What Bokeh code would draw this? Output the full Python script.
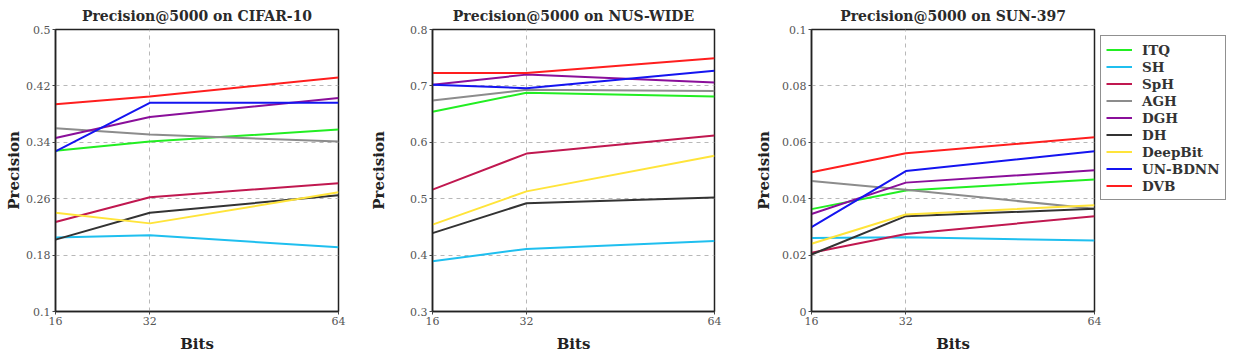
from bokeh.plotting import figure
from bokeh.layouts import row
from bokeh.models import FixedTicker, Legend, LegendItem
from bokeh.embed import file_html
from bokeh.resources import INLINE

bits = [16, 32, 64]
methods = ["ITQ", "SH", "SpH", "AGH", "DGH", "DH", "DeepBit", "UN-BDNN", "DVB"]
colors = ["#22ee22", "#1fbfef", "#c01850", "#8c8c8c", "#8a0f9a", "#333333", "#ffe43a", "#1414f0", "#ff1e1e"]

cifar10 = {
    "ITQ": [0.328, 0.341, 0.358],
    "SH": [0.205, 0.208, 0.191],
    "SpH": [0.227, 0.262, 0.282],
    "AGH": [0.360, 0.351, 0.341],
    "DGH": [0.346, 0.376, 0.403],
    "DH": [0.202, 0.240, 0.265],
    "DeepBit": [0.240, 0.225, 0.269],
    "UN-BDNN": [0.327, 0.396, 0.396],
    "DVB": [0.394, 0.405, 0.432],
}
nuswide = {
    "ITQ": [0.654, 0.688, 0.681],
    "SH": [0.389, 0.411, 0.425],
    "SpH": [0.516, 0.580, 0.612],
    "AGH": [0.674, 0.693, 0.691],
    "DGH": [0.702, 0.720, 0.706],
    "DH": [0.439, 0.492, 0.502],
    "DeepBit": [0.454, 0.513, 0.576],
    "UN-BDNN": [0.702, 0.696, 0.727],
    "DVB": [0.723, 0.723, 0.749],
}
sun397 = {
    "ITQ": [0.0363, 0.0429, 0.0468],
    "SH": [0.0261, 0.0263, 0.0252],
    "SpH": [0.0208, 0.0275, 0.0338],
    "AGH": [0.0463, 0.0432, 0.0364],
    "DGH": [0.0346, 0.0457, 0.0501],
    "DH": [0.0202, 0.0338, 0.0364],
    "DeepBit": [0.0240, 0.0344, 0.0377],
    "UN-BDNN": [0.0299, 0.0498, 0.0568],
    "DVB": [0.0494, 0.0561, 0.0618],
}

cifar_ticks = [0.1, 0.18, 0.26, 0.34, 0.42, 0.5]
cifar_labels = ["0.1", "0.18", "0.26", "0.34", "0.42", "0.5"]
nus_ticks = [0.3, 0.4, 0.5, 0.6, 0.7, 0.8]
nus_labels = ["0.3", "0.4", "0.5", "0.6", "0.7", "0.8"]
sun_ticks = [0.0, 0.02, 0.04, 0.06, 0.08, 0.1]
sun_labels = ["0", "0.02", "0.04", "0.06", "0.08", "0.1"]

titles = ["Precision@5000 on CIFAR-10", "Precision@5000 on NUS-WIDE", "Precision@5000 on SUN-397"]

SERIF = "DejaVu Serif"
FW, FH = 283, 282


def make_panel(title, data, yticks, ylabels, left, right, fw, ylab_standoff, legend=False):
    p = figure(frame_width=fw, frame_height=FH, output_backend="svg", toolbar_location=None,
               x_range=(16, 64), y_range=(yticks[0], yticks[-1]),
               min_border_left=left, min_border_right=right, min_border_top=0, min_border_bottom=41)
    p.title.text = title
    p.title.align = "center"
    p.title.text_font = SERIF
    p.title.text_font_size = "14px"
    p.title.text_font_style = "bold"
    p.title.text_color = "#2a2a2a"
    p.title.standoff = 11
    renderers = []
    for m, c in zip(methods, colors):
        r = p.line(bits, data[m], line_color=c, line_width=2)
        renderers.append((m, r))
    p.xaxis.ticker = FixedTicker(ticks=bits)
    p.yaxis.ticker = FixedTicker(ticks=yticks)
    p.yaxis.major_label_overrides = {t: l for t, l in zip(yticks, ylabels)}
    p.xgrid.ticker = FixedTicker(ticks=[32])
    for g in (p.xgrid, p.ygrid):
        g.grid_line_color = "#b8b8b8"
        g.grid_line_dash = "4 4"
        g.grid_line_width = 1
    p.xaxis.axis_label = "Bits"
    p.yaxis.axis_label = "Precision"
    for ax in (p.xaxis, p.yaxis):
        ax.axis_label_text_font = SERIF
        ax.axis_label_text_font_style = "bold"
        ax.axis_label_text_font_size = "15px"
        ax.axis_label_text_color = "#222222"
        ax.major_label_text_font = SERIF
        ax.major_label_text_font_size = "11px"
        ax.major_label_text_color = "#555555"
        ax.axis_line_color = "#222222"
        ax.axis_line_width = 1.5
        ax.major_tick_in = 0
        ax.major_tick_out = 3
        ax.minor_tick_line_color = None
        ax.major_tick_line_color = "#444444"
        ax.major_label_standoff = 2
    p.xaxis.axis_label_standoff = 7
    p.yaxis.axis_label_standoff = ylab_standoff
    p.outline_line_color = "#222222"
    p.outline_line_width = 1.5
    p.outline_line_alpha = 1.0
    if legend:
        lg = Legend(items=[LegendItem(label=m, renderers=[r]) for m, r in renderers])
        lg.location = "top_left"
        lg.margin = 6
        lg.padding = 5
        lg.spacing = 0
        lg.label_height = 17
        lg.glyph_height = 17
        lg.glyph_width = 26
        lg.label_standoff = 10
        lg.label_text_font = SERIF
        lg.label_text_font_style = "bold"
        lg.label_text_font_size = "13.5px"
        lg.label_text_color = "#333333"
        lg.border_line_color = "#222222"
        lg.border_line_width = 1.5
        lg.background_fill_alpha = 1.0
        p.add_layout(lg, "right")
    return p


p1 = make_panel(titles[0], cifar10, cifar_ticks, cifar_labels, 55, 29, FW, 0)
p2 = make_panel(titles[1], nuswide, nus_ticks, nus_labels, 65, 38, 282, 19)
p3 = make_panel(titles[2], sun397, sun_ticks, sun_labels, 57, 8, FW, 6, legend=True)

layout = row(p1, p2, p3)
open("out.html", "w").write(file_html(layout, INLINE))
